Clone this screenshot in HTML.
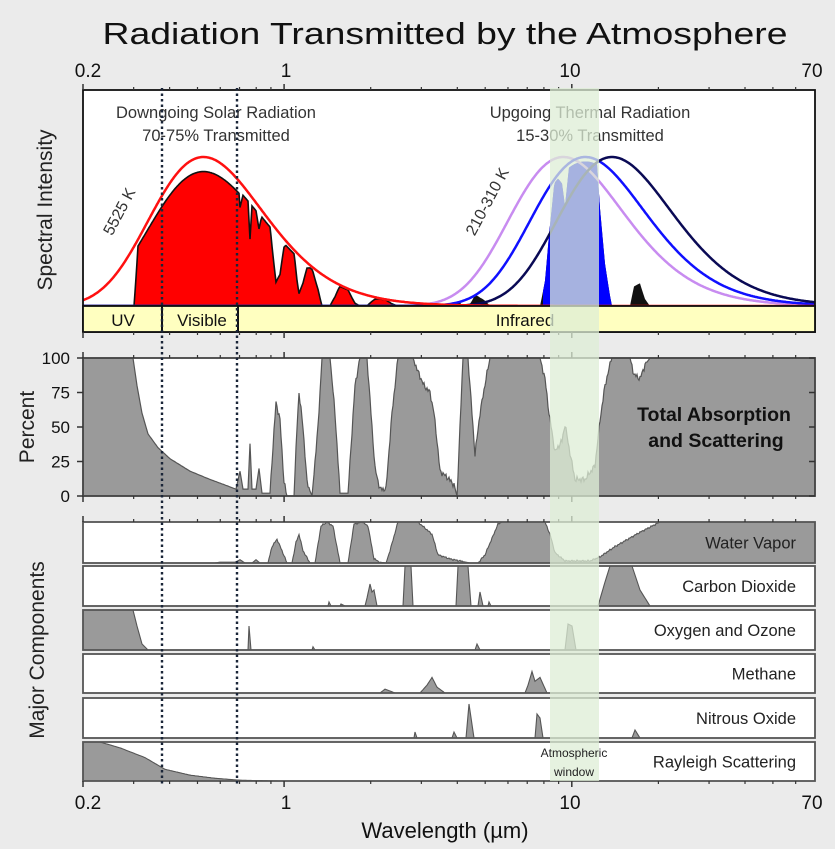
<!DOCTYPE html>
<html><head><meta charset="utf-8"><style>
body{margin:0;background:#ebebeb}
svg{display:block;font-family:"Liberation Sans",sans-serif}
</style></head><body>
<svg id="s" width="835" height="849" viewBox="0 0 835 849" xmlns="http://www.w3.org/2000/svg">
<rect width="835" height="849" fill="#ebebeb"/>
<text x="445" y="44" font-size="31" text-anchor="middle" fill="#111" textLength="685" lengthAdjust="spacingAndGlyphs">Radiation Transmitted by the Atmosphere</text>
<g font-size="19" fill="#111" text-anchor="middle">
<text x="88" y="77">0.2</text><text x="286" y="77">1</text><text x="570" y="77">10</text><text x="812" y="77">70</text>
<text x="88" y="809">0.2</text><text x="286" y="809">1</text><text x="570" y="809">10</text><text x="812" y="809">70</text>
</g>
<text x="445" y="838" font-size="22" text-anchor="middle" fill="#111">Wavelength (µm)</text>
<text transform="translate(52,210) rotate(-90)" font-size="21" text-anchor="middle" fill="#222">Spectral Intensity</text>
<text transform="translate(34,427) rotate(-90)" font-size="21" text-anchor="middle" fill="#222">Percent</text>
<text transform="translate(44,650) rotate(-90)" font-size="21" text-anchor="middle" fill="#222">Major Components</text>
<g id="g"></g>
</svg>
<script>
const NS="http://www.w3.org/2000/svg",G=document.getElementById('g');
function el(t,a,txt){const e=document.createElementNS(NS,t);for(const k in a)e.setAttribute(k,a[k]);if(txt)e.textContent=txt;G.appendChild(e);return e;}
const X=w=>83+287.7*Math.log10(w/0.2), W=x=>0.2*Math.pow(10,(x-83)/287.7);
function interp(p,x){if(x<=p[0][0])return p[0][1];for(let i=1;i<p.length;i++){if(x<=p[i][0]){const a=p[i-1],b=p[i];return a[1]+(b[1]-a[1])*(x-a[0])/(b[0]-a[0]||1);}}return p[p.length-1][1];}
function area(p,top,bot,jit){let d="M83,"+bot;for(let x=83;x<=815;x+=1){let v=interp(p,x);if(jit&&x>262&&v>3&&v<97)v+=Math.sin(x*2.3)*jit+Math.sin(x*5.1)*jit*0.6;v=Math.max(0,Math.min(100,v));d+=" L"+x+","+(bot-(bot-top)*v/100).toFixed(1);}return d+" L815,"+bot+" Z";}
function ticks(top,bot){const maj=[0.2,1,10],min=[];for(const dec of [0.1,1,10])for(let k=2;k<=9;k++){const w=dec*k;if(w>0.2&&w<70)min.push(w);}
 for(const w of min){const x=X(w);el('line',{x1:x,x2:x,y1:top-3,y2:top,stroke:'#333','stroke-width':1.2});el('line',{x1:x,x2:x,y1:bot,y2:bot+3,stroke:'#333','stroke-width':1.2});}
 for(const w of maj){const x=X(w);el('line',{x1:x,x2:x,y1:top-6,y2:top,stroke:'#333','stroke-width':1.5});el('line',{x1:x,x2:x,y1:bot,y2:bot+6,stroke:'#333','stroke-width':1.5});}}
const TOT=[[83,100],[133,100],[137,80],[142,60],[148,45],[158,35],[170,27],[190,18],[210,12],[225,8],[232,6],[236,5],[240,18],[243,5],[248,5],[250,38],[252,5],[256,5],[259,20],[262,2],[270,2],[272,25],[276,68],[280,55],[284,10],[287,0],[294,0],[297,50],[299,75],[303,50],[307,10],[312,0],[318,50],[322,100],[330,100],[335,60],[340,2],[348,2],[355,80],[360,100],[367,100],[370,70],[375,20],[380,5],[386,5],[392,60],[398,100],[413,100],[418,90],[424,80],[430,75],[434,60],[437,40],[440,18],[448,13],[454,8],[457,0],[460,50],[463,100],[468,100],[472,60],[475,30],[480,60],[486,85],[490,100],[540,100],[545,85],[549,60],[555,32],[562,40],[565,52],[569,35],[575,12],[585,12],[595,22],[600,55],[605,80],[610,95],[612,100],[630,100],[634,88],[640,85],[645,95],[650,100],[815,100]];
const WV=[[83,0],[215,0],[220,2],[235,2],[240,8],[245,0],[252,0],[256,8],[260,0],[268,0],[272,40],[277,58],[282,30],[287,0],[292,0],[296,50],[299,70],[303,30],[310,0],[315,0],[321,90],[327,100],[333,90],[340,0],[348,0],[354,95],[362,100],[368,90],[374,10],[380,2],[386,0],[390,30],[398,100],[418,100],[425,85],[432,70],[438,20],[450,10],[460,5],[470,0],[478,0],[485,20],[492,60],[498,95],[502,100],[545,100],[550,70],[555,25],[565,5],[590,5],[600,15],[615,40],[640,75],[660,100],[815,100]];
const CO2=[[83,0],[328,0],[329,10],[331,0],[340,0],[341,5],[345,0],[365,0],[367,20],[370,55],[372,35],[374,40],[377,0],[403,0],[405,100],[411,100],[413,0],[456,0],[458,100],[468,100],[471,0],[478,0],[480,35],[483,0],[488,0],[489,10],[491,0],[598,0],[605,60],[610,100],[632,100],[640,40],[650,0],[815,0]];
const O3=[[83,100],[133,100],[137,60],[142,15],[148,0],[248,0],[249,60],[251,0],[312,0],[313,8],[315,0],[475,0],[477,15],[480,0],[565,0],[568,65],[572,60],[576,0],[815,0]];
const CH4=[[83,0],[380,0],[385,10],[390,5],[395,0],[420,0],[427,20],[432,40],[437,15],[445,0],[525,0],[528,20],[532,55],[535,30],[540,40],[547,0],[815,0]];
const N2O=[[83,0],[414,0],[415,15],[417,0],[452,0],[454,15],[457,0],[466,0],[469,85],[474,0],[535,0],[537,60],[540,50],[543,0],[632,0],[635,20],[640,0],[815,0]];
const RAY=[[83,100],[100,100],[120,85],[145,60],[165,30],[190,15],[215,7],[240,2],[280,0],[815,0]];
el('rect',{x:83,y:90,width:732,height:216,fill:'#fff'});
const pl=(w,T)=>Math.pow(w,-5)/(Math.exp(14388/(w*T))-1);
const pmax=T=>pl(2898/T,T);
let sf="M83,306",sc="M";
for(let x=83;x<=815;x++){const w=W(x),p=pl(w,5525)/pmax(5525),A=interp(TOT,x);let T=1-A/100;if(x<240)T=x<134?0:(x<138?(x-134)/4*0.93:0.93);T=Math.min(T,0.96);
 sf+=" L"+x+","+(306-149*0.97*p*T).toFixed(1);sc+=(x>83?" L":"")+x+","+(306-149*p).toFixed(1);}
sf+=" L815,306 Z";
el('path',{d:sf,fill:'#ff0000',stroke:'#111','stroke-width':1.6});
let tf="M420,306";for(let x=420;x<=700;x++){const w=W(x),p=pl(w,260)/pmax(260),T=1-interp(TOT,x)/100;let v=Math.min(0.97*p,1.5*p*T);tf+=" L"+x+","+(306-149*v).toFixed(1);}tf+=" L700,306 Z";
el('path',{d:tf,fill:'#111'});
const cp=el('clipPath',{id:'cw'});const cr=document.createElementNS(NS,'rect');cr.setAttribute('x',543);cr.setAttribute('y',90);cr.setAttribute('width',69);cr.setAttribute('height',216);cp.appendChild(cr);
el('path',{d:tf,fill:'#0000ff','clip-path':'url(#cw)'});
[[310,'#c88cf0'],[260,'#1010ff'],[210,'#0a0a55']].forEach(([T,c])=>{let d="M";for(let x=83;x<=815;x++){const p=pl(W(x),T)/pmax(T);d+=(x>83?" L":"")+x+","+(306-149*p).toFixed(1);}el('path',{d:d,fill:'none',stroke:c,'stroke-width':2.5});});
el('path',{d:sc,fill:'none',stroke:'#ff1010','stroke-width':2.5});
el('rect',{x:83,y:90,width:732,height:242,fill:'none',stroke:'#111','stroke-width':1.8});
el('rect',{x:83,y:306,width:732,height:26,fill:'#ffffc0',stroke:'#111','stroke-width':1.8});
el('line',{x1:162,x2:162,y1:306,y2:332,stroke:'#111','stroke-width':2});el('line',{x1:238,x2:238,y1:306,y2:332,stroke:'#111','stroke-width':2});
ticks(90,332);
el('text',{x:123,y:326,'font-size':17,'text-anchor':'middle',fill:'#111'},'UV');
el('text',{x:202,y:326,'font-size':17,'text-anchor':'middle',fill:'#111'},'Visible');
el('text',{x:525,y:326,'font-size':17,'text-anchor':'middle',fill:'#111'},'Infrared');
el('text',{x:216,y:118,'font-size':16.5,'text-anchor':'middle',fill:'#333'},'Downgoing Solar Radiation');
el('text',{x:216,y:141,'font-size':16.5,'text-anchor':'middle',fill:'#333'},'70-75% Transmitted');
el('text',{x:590,y:118,'font-size':16.5,'text-anchor':'middle',fill:'#333'},'Upgoing Thermal Radiation');
el('text',{x:590,y:141,'font-size':16.5,'text-anchor':'middle',fill:'#333'},'15-30% Transmitted');
el('text',{transform:'translate(124,214) rotate(-62)','font-size':16,'text-anchor':'middle',fill:'#333'},'5525 K');
el('text',{transform:'translate(492,204) rotate(-62)','font-size':16,'text-anchor':'middle',fill:'#333'},'210-310 K');
el('rect',{x:83,y:358,width:732,height:138,fill:'#fff'});
el('path',{d:area(TOT,358,496,1.5),fill:'#9a9a9a',stroke:'#555','stroke-width':1.2});
el('rect',{x:83,y:358,width:732,height:138,fill:'none',stroke:'#444','stroke-width':1.8});
ticks(358,496);
[[100,358],[75,392.5],[50,427],[25,461.5],[0,496]].forEach(([v,y])=>{el('text',{x:70,y:y+6,'font-size':17,'text-anchor':'end',fill:'#111'},String(v));el('line',{x1:77,x2:83,y1:y,y2:y,stroke:'#333','stroke-width':1.5});el('line',{x1:809,x2:815,y1:y,y2:y,stroke:'#333','stroke-width':1.5});});
el('text',{x:714,y:421,'font-size':19.5,'font-weight':'bold','text-anchor':'middle',fill:'#111'},'Total Absorption');
el('text',{x:716,y:447,'font-size':19.5,'font-weight':'bold','text-anchor':'middle',fill:'#111'},'and Scattering');
const comps=[[WV,522,563,'Water Vapor',1.5],[CO2,566,606,'Carbon Dioxide',0],[O3,610,650,'Oxygen and Ozone',0],[CH4,654,693,'Methane',0],[N2O,698,738,'Nitrous Oxide',0],[RAY,742,781,'Rayleigh Scattering',0]];
comps.forEach(([d,t,b,l,j])=>{el('rect',{x:83,y:t,width:732,height:b-t,fill:'#fff'});el('path',{d:area(d,t,b,j),fill:'#9a9a9a',stroke:'#555','stroke-width':1.1});el('rect',{x:83,y:t,width:732,height:b-t,fill:'none',stroke:'#555','stroke-width':1.8});el('text',{x:796,y:(t+b)/2+6,'font-size':16.5,'text-anchor':'end',fill:'#222'},l);});
ticks(522,781);
el('rect',{x:550,y:88,width:49,height:693,fill:'rgba(222,238,214,0.75)'});
el('text',{x:574,y:757,'font-size':12,'text-anchor':'middle',fill:'#222'},'Atmospheric');
el('text',{x:574,y:776,'font-size':12,'text-anchor':'middle',fill:'#222'},'window');
[162,237].forEach(x=>el('line',{x1:x,x2:x,y1:88,y2:786,stroke:'#1a2538','stroke-width':2.4,'stroke-dasharray':'2.5,3'}));
</script>
</body></html>
